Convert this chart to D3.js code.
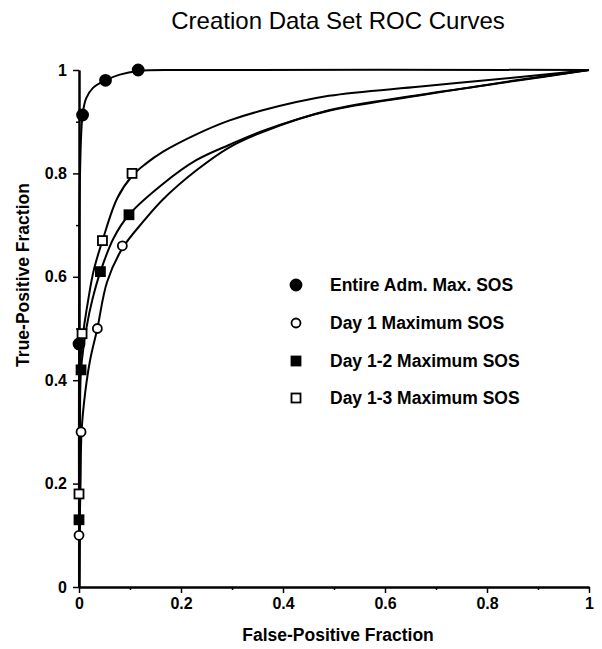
<!DOCTYPE html>
<html>
<head>
<meta charset="utf-8">
<script src="https://cdn.jsdelivr.net/npm/d3@7"></script>
<style>
  body { margin: 0; background: #fff; }
  svg { display: block; font-family: "Liberation Sans", Arial, sans-serif; }
</style>
</head>
<body>
<svg id="chart" width="602" height="649"></svg>
<script>
// series names, in legend order
const seriesNames = ['Entire Adm. Max. SOS', 'Day 1 Maximum SOS', 'Day 1-2 Maximum SOS', 'Day 1-3 Maximum SOS'];

// observed points [false-positive, true-positive]
const entirePoints = [[0, 0.47], [0.007, 0.913], [0.052, 0.98], [0.116, 1.0]];
const day1Points = [[0, 0.1], [0.004, 0.30], [0.036, 0.50], [0.085, 0.66]];
const day12Points = [[0, 0.13], [0.004, 0.42], [0.042, 0.61], [0.098, 0.72]];
const day13Points = [[0, 0.18], [0.006, 0.49], [0.046, 0.67], [0.104, 0.80]];

// fitted curves
const entireCurve = [[0, 0], [0, 0.47], [0.002, 0.8], [0.007, 0.913], [0.014, 0.945], [0.027, 0.965],
  [0.052, 0.98], [0.08, 0.991], [0.116, 0.998], [0.2, 1], [1, 1]];
const day1Curve = [[0, 0], [0.001, 0.1], [0.003, 0.2], [0.005, 0.3], [0.012, 0.375], [0.022, 0.44],
  [0.036, 0.5], [0.055, 0.59], [0.085, 0.655], [0.127, 0.708], [0.165, 0.75], [0.229, 0.805],
  [0.294, 0.85], [0.36, 0.88], [0.49, 0.922], [0.67, 0.952], [0.85, 0.978], [1, 1]];
const day12Curve = [[0, 0], [0.001, 0.13], [0.002, 0.3], [0.004, 0.42], [0.015, 0.503], [0.026, 0.555],
  [0.042, 0.61], [0.068, 0.675], [0.098, 0.72], [0.165, 0.78], [0.229, 0.825], [0.294, 0.855],
  [0.36, 0.882], [0.49, 0.921], [0.67, 0.951], [0.85, 0.979], [1, 1]];
const day13Curve = [[0, 0], [0.001, 0.18], [0.003, 0.44], [0.008, 0.49], [0.018, 0.555], [0.029, 0.613],
  [0.046, 0.67], [0.075, 0.752], [0.104, 0.795], [0.13, 0.818], [0.165, 0.842], [0.229, 0.875],
  [0.294, 0.902], [0.36, 0.922], [0.49, 0.95], [0.67, 0.968], [0.85, 0.985], [1, 1]];

// tick values and labels
const majorTicks = [0, 0.2, 0.4, 0.6, 0.8, 1];
const majorLabels = ['0', '0.2', '0.4', '0.6', '0.8', '1'];
const minorTicks = [0.1, 0.3, 0.5, 0.7, 0.9];

const svg = d3.select('#chart');

const margin = { top: 70, bottom: 62, left: 79, right: 13 };
const width = 602 - margin.left - margin.right;
const height = 649 - margin.top - margin.bottom;

const chart = svg.append('g')
  .attr('transform', `translate(${margin.left}, ${margin.top})`);

const xScale = d3.scaleLinear().domain([0, 1]).range([0, width]);
const yScale = d3.scaleLinear().domain([0, 1]).range([height, 0]);

const labelOf = (d) => majorLabels[majorTicks.indexOf(d)];

/* title */
svg.append('text')
  .attr('x', 338)
  .attr('y', 29)
  .attr('text-anchor', 'middle')
  .attr('font-size', 24)
  .text('Creation Data Set ROC Curves');

/* axes */
chart.append('g')
  .attr('transform', `translate(0, ${height})`)
  .call(d3.axisBottom(xScale).tickValues(majorTicks).tickFormat(labelOf).tickSize(6).tickSizeOuter(0).tickPadding(5));
chart.append('g')
  .attr('transform', `translate(0, ${height})`)
  .call(d3.axisBottom(xScale).tickValues(minorTicks).tickFormat('').tickSize(3).tickSizeOuter(0));

chart.append('g')
  .call(d3.axisLeft(yScale).tickValues(majorTicks).tickFormat(labelOf).tickSize(6).tickSizeOuter(0).tickPadding(6));
chart.append('g')
  .call(d3.axisLeft(yScale).tickValues(minorTicks).tickFormat('').tickSize(3).tickSizeOuter(0));

chart.selectAll('.domain').attr('stroke', '#000').attr('stroke-width', 2);
chart.selectAll('.tick line').attr('stroke', '#000').attr('stroke-width', 1.5);
chart.selectAll('.tick text')
  .attr('fill', '#000')
  .attr('font-size', 16)
  .attr('font-weight', 'bold')
  .attr('font-family', '"Liberation Sans", Arial, sans-serif');

/* axis titles */
svg.append('text')
  .attr('x', 338)
  .attr('y', 641)
  .attr('text-anchor', 'middle')
  .attr('font-size', 17.5)
  .attr('font-weight', 'bold')
  .text('False-Positive Fraction');

svg.append('text')
  .attr('transform', 'translate(29, 275) rotate(-90)')
  .attr('text-anchor', 'middle')
  .attr('font-size', 17.5)
  .attr('font-weight', 'bold')
  .text('True-Positive Fraction');

/* curves */
const line = d3.line()
  .x((d) => xScale(d[0]))
  .y((d) => yScale(d[1]))
  .curve(d3.curveCatmullRom.alpha(0.5));

const curves = [entireCurve, day1Curve, day12Curve, day13Curve];
chart.selectAll('.curve')
  .data(curves)
  .enter()
  .append('path')
  .attr('class', 'curve')
  .attr('d', line)
  .attr('fill', 'none')
  .attr('stroke', '#000')
  .attr('stroke-width', 2);

/* markers */
const symbols = [
  { type: 'circle', fill: '#000', r: 5.5 },
  { type: 'circle', fill: '#fff', r: 4.5 },
  { type: 'square', fill: '#000', r: 4.5 },
  { type: 'square', fill: '#fff', r: 4.5 }
];

function drawMarker(g, sym, cx, cy) {
  if (sym.type === 'circle') {
    g.append('circle')
      .attr('cx', cx)
      .attr('cy', cy)
      .attr('r', sym.r)
      .attr('fill', sym.fill)
      .attr('stroke', '#000')
      .attr('stroke-width', 1.8);
  } else {
    g.append('rect')
      .attr('x', cx - sym.r)
      .attr('y', cy - sym.r)
      .attr('width', sym.r * 2)
      .attr('height', sym.r * 2)
      .attr('fill', sym.fill)
      .attr('stroke', '#000')
      .attr('stroke-width', 1.8);
  }
}

const pointSets = [entirePoints, day1Points, day12Points, day13Points];
// draw from last series to first so the filled circles sit on top
for (let i = pointSets.length - 1; i >= 0; i--) {
  const g = chart.append('g');
  pointSets[i].forEach((p) => drawMarker(g, symbols[i], xScale(p[0]), yScale(p[1])));
}

/* legend */
const legend = svg.append('g');
const legendRows = [285, 323, 361, 398];
seriesNames.forEach((name, i) => {
  drawMarker(legend, symbols[i], 296, legendRows[i]);
  legend.append('text')
    .attr('x', 330)
    .attr('y', legendRows[i] + 6)
    .attr('font-size', 17.5)
    .attr('font-weight', 'bold')
    .text(name);
});
</script>
</body>
</html>
